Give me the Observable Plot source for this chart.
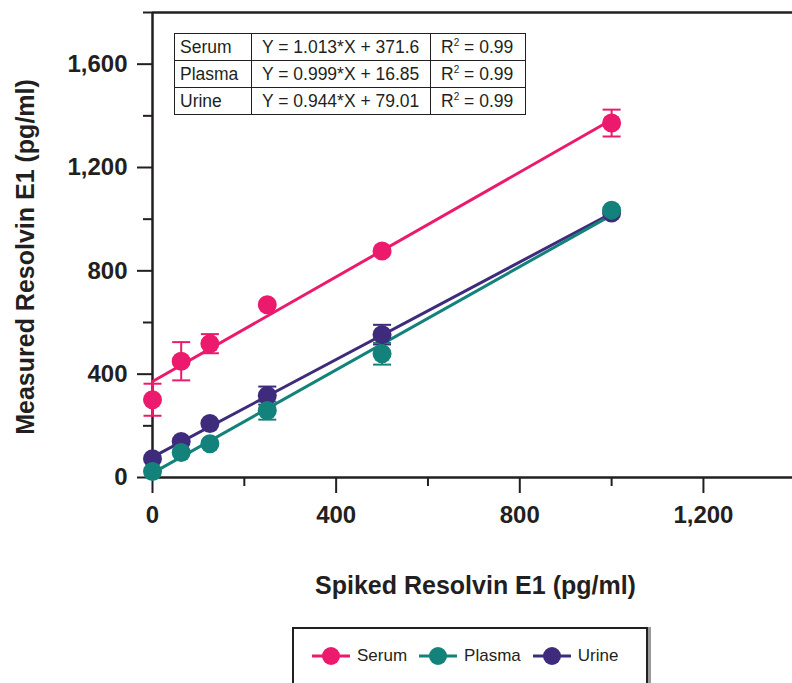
<!DOCTYPE html>
<html>
<head>
<meta charset="utf-8">
<script src="https://cdn.jsdelivr.net/npm/d3@7"></script>
<script src="https://cdn.jsdelivr.net/npm/@observablehq/plot@0.6"></script>
<style>
  html, body { margin: 0; padding: 0; background: #fff; }
  body { font-family: "Liberation Sans", Arial, Helvetica, sans-serif; color: #231f20; min-height: 683px; }
  #wrap { position: relative; width: 792px; }
  #wrap > svg { display: block; }
  #eq { position: absolute; left: 174px; top: 33px; border-collapse: collapse; font-size: 17.5px; background: #fff; }
  #eq td { border: 1px solid #231f20; height: 26px; padding: 0 0 0 5px; white-space: nowrap; line-height: 26px; box-sizing: border-box; }
  #eq td.c2, #eq td.c3 { padding-left: 10px; }
  #eq sup { font-size: 10px; vertical-align: 7px; line-height: 0; }
  #legend { margin: 5px 0 0 292px; width: 356px; height: 62px; border: 2px solid #231f20; box-shadow: 3px 0 0 #999; background: #fff; display: flex; align-items: flex-start; padding-top: 17px; box-sizing: border-box; padding-left: 18px; font-size: 17px; }
  .item { display: flex; align-items: center; margin-right: 12px; }
  .item svg { margin-right: 7px; display: block; }
</style>
</head>
<body>
<div id="wrap"></div>
<script>
const series = ["Serum", "Plasma", "Urine"];
const colors = ["#ec1a6c", "#13827b", "#3f2b7c"];
const spiked = [0, 62.5, 125, 250, 500, 1000];
const serum = [301, 450, 518, 669, 877, 1372];
const plasma = [23, 97, 131, 259, 479, 1035];
const urine = [73, 139, 209, 317, 553, 1024];
const serumErr = [62, 74, 37, 0, 0, 52];
const plasmaErr = [0, 0, 0, 35, 42, 0];
const urineErr = [0, 0, 0, 35, 38, 0];
const slopes = [1.013, 0.999, 0.944];
const intercepts = [371.6, 16.85, 79.01];
const equations = ["Y = 1.013*X + 371.6", "Y = 0.999*X + 16.85", "Y = 0.944*X + 79.01"];
const r2 = ["0.99", "0.99", "0.99"];
const yMajor = [0, 400, 800, 1200, 1600];
const yMinor = [200, 600, 1000, 1400, 1800];
const xMajor = [0, 400, 800, 1200];
const xMinor = [200, 600, 1000];

const values = {Serum: serum, Plasma: plasma, Urine: urine};
const errs = {Serum: serumErr, Plasma: plasmaErr, Urine: urineErr};
const order = ["Serum", "Urine", "Plasma"];
const points = order.flatMap(s => spiked.map((x, i) => ({series: s, x, y: values[s][i], e: errs[s][i]})));
const errPts = points.filter(d => d.e > 0);
const fitLines = order.flatMap(s => {
  const k = series.indexOf(s);
  return [0, 1000].map(x => ({series: s, x, y: slopes[k] * x + intercepts[k]}));
});

const ink = "#231f20";
const fmt = d3.format(",");
const capSymbol = { draw(ctx) { ctx.moveTo(-9, 0); ctx.lineTo(9, 0); } };
const tickFont = {fontSize: 24, fontWeight: "bold", fontFamily: "Liberation Sans, Arial, sans-serif"};

const chart = Plot.plot({
  width: 792,
  height: 622,
  marginLeft: 152,
  marginRight: 0,
  marginTop: 12,
  marginBottom: 145,
  style: {fontFamily: "Liberation Sans, Arial, sans-serif", color: ink, background: "#fff"},
  x: {domain: [0, 1394]},
  y: {domain: [0, 1800]},
  color: {domain: series, range: colors},
  marks: [
    Plot.ruleY([1800], {stroke: ink, strokeWidth: 2.5}),
    Plot.ruleX([0], {stroke: ink, strokeWidth: 2.5}),
    Plot.ruleY([0], {stroke: ink, strokeWidth: 2.5}),
    Plot.axisY({ticks: yMajor, tickSize: 15, tickPadding: 10, tickFormat: fmt, label: null, strokeWidth: 2, stroke: ink, fill: ink, ...tickFont}),
    Plot.axisY({ticks: yMinor, tickSize: 9, tickFormat: () => "", label: null, strokeWidth: 2, stroke: ink}),
    Plot.axisX({ticks: xMajor, tickSize: 16, tickPadding: 12, tickFormat: fmt, label: null, strokeWidth: 2, stroke: ink, fill: ink, ...tickFont}),
    Plot.axisX({ticks: xMinor, tickSize: 9, tickFormat: () => "", label: null, strokeWidth: 2, stroke: ink}),
    Plot.ruleX(errPts, {x: "x", y1: d => d.y - d.e, y2: d => d.y + d.e, stroke: "series", strokeWidth: 2}),
    Plot.dot(errPts, {x: "x", y: d => d.y - d.e, symbol: capSymbol, stroke: "series", strokeWidth: 2, fill: "none"}),
    Plot.dot(errPts, {x: "x", y: d => d.y + d.e, symbol: capSymbol, stroke: "series", strokeWidth: 2, fill: "none"}),
    Plot.line(fitLines, {x: "x", y: "y", z: "series", stroke: "series", strokeWidth: 3}),
    Plot.dot(points, {x: "x", y: "y", fill: "series", r: 9.5}),
    Plot.text(["Measured Resolvin E1 (pg/ml)"], {frameAnchor: "left", textAnchor: "middle", lineAnchor: "middle", rotate: -90, dx: -127, dy: 12, fontSize: 25, fontWeight: "bold", fill: ink}),
    Plot.text(["Spiked Resolvin E1 (pg/ml)"], {frameAnchor: "bottom", textAnchor: "middle", lineAnchor: "middle", dx: 3, dy: 108, fontSize: 25, fontWeight: "bold", fill: ink})
  ]
});

const wrap = document.getElementById("wrap");
wrap.appendChild(chart);

// equation table
const table = document.createElement("table");
table.id = "eq";
const widths = [77, 179, 95];
series.forEach((s, i) => {
  const tr = document.createElement("tr");
  const c1 = document.createElement("td"); c1.textContent = s; c1.style.width = widths[0] + "px";
  const c2 = document.createElement("td"); c2.className = "c2"; c2.textContent = equations[i]; c2.style.width = widths[1] + "px";
  const c3 = document.createElement("td"); c3.className = "c3"; c3.innerHTML = "R<sup>2</sup> = " + r2[i]; c3.style.width = widths[2] + "px";
  tr.append(c1, c2, c3);
  table.appendChild(tr);
});
wrap.appendChild(table);

// legend
const legend = document.createElement("div");
legend.id = "legend";
series.forEach((s, i) => {
  const item = document.createElement("div");
  item.className = "item";
  item.innerHTML = `<svg width="38" height="20"><line x1="0" y1="10" x2="38" y2="10" stroke="${colors[i]}" stroke-width="3"/><circle cx="19" cy="10" r="9" fill="${colors[i]}"/></svg><span>${s}</span>`;
  legend.appendChild(item);
});
document.body.appendChild(legend);
</script>
</body>
</html>
